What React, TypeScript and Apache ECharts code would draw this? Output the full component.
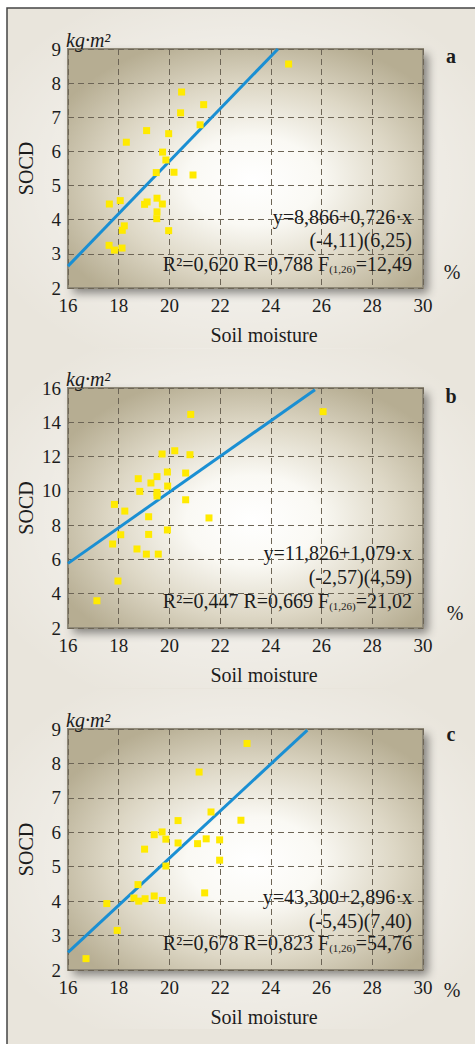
import React, { useEffect, useRef } from "react";
import * as echarts from "echarts";

// ---- data ----
const X_MIN = 16;
const X_MAX = 30;
const X_STEP = 2;

const pointsA: number[][] = [
  [24.7, 8.56], [20.48, 7.74], [21.35, 7.37], [20.44, 7.13], [21.21, 6.78],
  [19.1, 6.61], [19.97, 6.52], [18.3, 6.27], [19.73, 5.98], [19.86, 5.75],
  [19.48, 5.38], [20.18, 5.39], [20.93, 5.31], [17.63, 4.46], [18.06, 4.56],
  [19.02, 4.45], [19.12, 4.52], [19.51, 4.63], [19.72, 4.46], [19.51, 4.23],
  [19.5, 4.03], [18.22, 3.82], [18.14, 3.69], [19.97, 3.68], [17.62, 3.25],
  [17.83, 3.11], [18.13, 3.17],
];
const pointsB: number[][] = [
  [20.84, 14.46], [26.06, 14.62], [19.71, 12.15], [20.21, 12.34], [20.81, 12.11],
  [18.77, 10.71], [19.51, 10.83], [19.92, 11.1], [20.64, 11.04], [19.27, 10.46],
  [19.93, 10.28], [18.83, 9.97], [19.51, 9.91], [19.51, 9.7], [20.64, 9.48],
  [17.83, 9.21], [18.24, 8.82], [19.18, 8.49], [21.56, 8.42], [18.08, 7.44],
  [19.18, 7.46], [19.92, 7.72], [17.76, 6.9], [18.72, 6.61], [19.09, 6.31],
  [19.56, 6.31], [17.97, 4.74], [17.14, 3.59],
];
const pointsC: number[][] = [
  [23.06, 8.58], [21.17, 7.75], [21.64, 6.59], [20.34, 6.34], [22.82, 6.35],
  [19.4, 5.93], [19.71, 6.01], [19.86, 5.8], [20.34, 5.69], [21.11, 5.67],
  [21.45, 5.81], [21.98, 5.78], [19.02, 5.51], [21.98, 5.19], [19.86, 5.02],
  [18.76, 4.48], [18.6, 4.09], [18.79, 4.0], [19.04, 4.07], [19.4, 4.15],
  [19.72, 4.02], [21.39, 4.24], [17.53, 3.93], [17.94, 3.15], [16.71, 2.33],
];
const lineA: number[][] = [[16, 2.64], [24.28, 9]];
const lineB: number[][] = [[16, 5.77], [25.74, 15.9]];
const lineC: number[][] = [[16, 2.51], [25.44, 8.97]];

const yRanges = [
  { min: 2, max: 9, interval: 1 },
  { min: 2, max: 16, interval: 2 },
  { min: 2, max: 9, interval: 1 },
];
const panelLetters = ["a", "b", "c"];
const eqLine1 = ["y=8,866+0,726·x", "y=11,826+1,079·x", "y=43,300+2,896·x"];
const eqLine2 = ["(-4,11)(6,25)", "(-2,57)(4,59)", "(-5,45)(7,40)"];
const eqR2 = ["R²=0,620 R=0,788 F", "R²=0,447 R=0,669 F", "R²=0,678 R=0,823 F"];
const eqF = ["=12,49", "=21,02", "=54,76"];
const xTitle = "Soil moisture";
const yTitle = "SOCD";
const yUnit = "kg·m²";
const xUnit = "%";

// ---- layout ----
const PLOT_LEFT = 68;
const PLOT_WIDTH = 355;
const panels = [
  { top: 49, height: 239, eqY: [217, 240, 264], pctX: 452, pctY: 272, letterY: 56 },
  { top: 388, height: 240, eqY: [553, 577, 601], pctX: 455, pctY: 613, letterY: 396 },
  { top: 729, height: 241, eqY: [897, 921, 943], pctX: 452, pctY: 990, letterY: 734 },
];
const FONT = "'Liberation Serif', 'Times New Roman', serif";
const TXT = "#1c1c1c";

export default function App() {
  const ref = useRef<HTMLDivElement>(null);
  useEffect(() => {
    if (!ref.current) return;
    const chart = echarts.init(ref.current, null, { renderer: "svg" });
    const allPoints = [pointsA, pointsB, pointsC];
    const allLines = [lineA, lineB, lineC];

    const graphic: any[] = [];
    // outer frame
    graphic.push({
      type: "rect",
      z: -20,
      shape: { x: 7, y: 8, width: 480, height: 1050 },
      style: { fill: "#e9e5dc", stroke: "#444", lineWidth: 1.5 },
    });
    panels.forEach((p, i) => {
      graphic.push({
        type: "rect",
        z: -19,
        shape: { x: 8, y: p.top - 40, width: 467, height: 340 },
        style: {
          fill: new echarts.graphic.RadialGradient(0.5, 0.5, 0.6, [
            { offset: 0, color: "rgba(255,255,255,0.85)" },
            { offset: 1, color: "rgba(255,255,255,0)" },
          ]),
        },
      });
      graphic.push({
        type: "rect",
        z: -10,
        shape: { x: PLOT_LEFT, y: p.top, width: PLOT_WIDTH, height: p.height },
        style: {
          fill: new echarts.graphic.RadialGradient(0.52, 0.55, 0.62, [
            { offset: 0, color: "#ffffff" },
            { offset: 0.3, color: "#faf9f4" },
            { offset: 0.65, color: "#ddd7c5" },
            { offset: 1, color: "#b6ad92" },
          ]),
          shadowBlur: 10,
          shadowColor: "rgba(0,0,0,0.45)",
          shadowOffsetX: 5,
          shadowOffsetY: 5,
        },
      });
      const cy = p.top + p.height / 2;
      graphic.push({
        type: "text",
        x: 26,
        y: cy,
        rotation: Math.PI / 2,
        style: { text: yTitle, fontSize: 20, fontFamily: FONT, fill: TXT, align: "center", verticalAlign: "middle" },
      });
      graphic.push({
        type: "text",
        x: 66,
        y: p.top - 9,
        style: { text: yUnit, fontSize: 20, fontStyle: "italic", fontFamily: FONT, fill: TXT, align: "left", verticalAlign: "middle" },
      });
      graphic.push({
        type: "text",
        x: 451,
        y: p.letterY,
        style: { text: panelLetters[i], fontSize: 20, fontWeight: "bold", fontFamily: FONT, fill: TXT, align: "center", verticalAlign: "middle" },
      });
      graphic.push({
        type: "text",
        x: p.pctX,
        y: p.pctY,
        style: { text: xUnit, fontSize: 20, fontFamily: FONT, fill: TXT, align: "center", verticalAlign: "middle" },
      });
      graphic.push({
        type: "text",
        x: 264,
        y: p.top + p.height + 47,
        style: { text: xTitle, fontSize: 20, fontFamily: FONT, fill: TXT, align: "center", verticalAlign: "middle" },
      });
      graphic.push({
        type: "text",
        x: 412,
        y: p.eqY[0],
        z: 10,
        style: { text: eqLine1[i], fontSize: 20, fontFamily: FONT, fill: TXT, align: "right", verticalAlign: "middle" },
      });
      graphic.push({
        type: "text",
        x: 412,
        y: p.eqY[1],
        z: 10,
        style: { text: eqLine2[i], fontSize: 20, fontFamily: FONT, fill: TXT, align: "right", verticalAlign: "middle" },
      });
      graphic.push({
        type: "text",
        x: 412,
        y: p.eqY[2],
        z: 10,
        style: {
          text: eqR2[i] + "{s|(1,26)}" + eqF[i],
          fontSize: 20,
          fontFamily: FONT,
          fill: TXT,
          align: "right",
          verticalAlign: "middle",
          rich: {
            s: { fontSize: 11, fontFamily: FONT, fill: TXT, verticalAlign: "bottom", padding: [6, 0, 0, 0] },
          },
        },
      });
    });

    const grid = panels.map((p) => ({
      left: PLOT_LEFT,
      top: p.top,
      width: PLOT_WIDTH,
      height: p.height,
      show: true,
      backgroundColor: "transparent",
      borderColor: "#8f8978",
      borderWidth: 2,
      containLabel: false,
    }));
    const split = { show: true, lineStyle: { type: [6, 4], color: "#6d6556", width: 1 } };
    const xAxis = panels.map((_, i) => ({
      type: "value",
      gridIndex: i,
      min: X_MIN,
      max: X_MAX,
      interval: X_STEP,
      axisLine: { show: false },
      axisTick: { show: false },
      splitLine: split,
      axisLabel: { fontSize: 19, fontFamily: FONT, color: TXT, margin: 8 },
    }));
    const yAxis = panels.map((_, i) => ({
      type: "value",
      gridIndex: i,
      min: yRanges[i].min,
      max: yRanges[i].max,
      interval: yRanges[i].interval,
      axisLine: { show: false },
      axisTick: { show: false },
      splitLine: split,
      axisLabel: { fontSize: 19, fontFamily: FONT, color: TXT, margin: 7 },
    }));
    const series: any[] = [];
    panels.forEach((_, i) => {
      series.push({
        type: "line",
        xAxisIndex: i,
        yAxisIndex: i,
        data: allLines[i],
        symbol: "none",
        z: 2,
        lineStyle: { color: "#1a8fd3", width: 3 },
      });
      series.push({
        type: "scatter",
        xAxisIndex: i,
        yAxisIndex: i,
        data: allPoints[i],
        symbol: "rect",
        symbolSize: 7,
        z: 3,
        itemStyle: { color: "#ffea00", opacity: 1 },
      });
    });

    chart.setOption({
      animation: false,
      backgroundColor: "#ffffff",
      grid,
      xAxis,
      yAxis,
      series,
      graphic,
    });
    return () => chart.dispose();
  }, []);
  return (
    <div
      ref={ref}
      style={{ position: "absolute", left: 0, top: 0, width: 475, height: 1044 }}
    />
  );
}
